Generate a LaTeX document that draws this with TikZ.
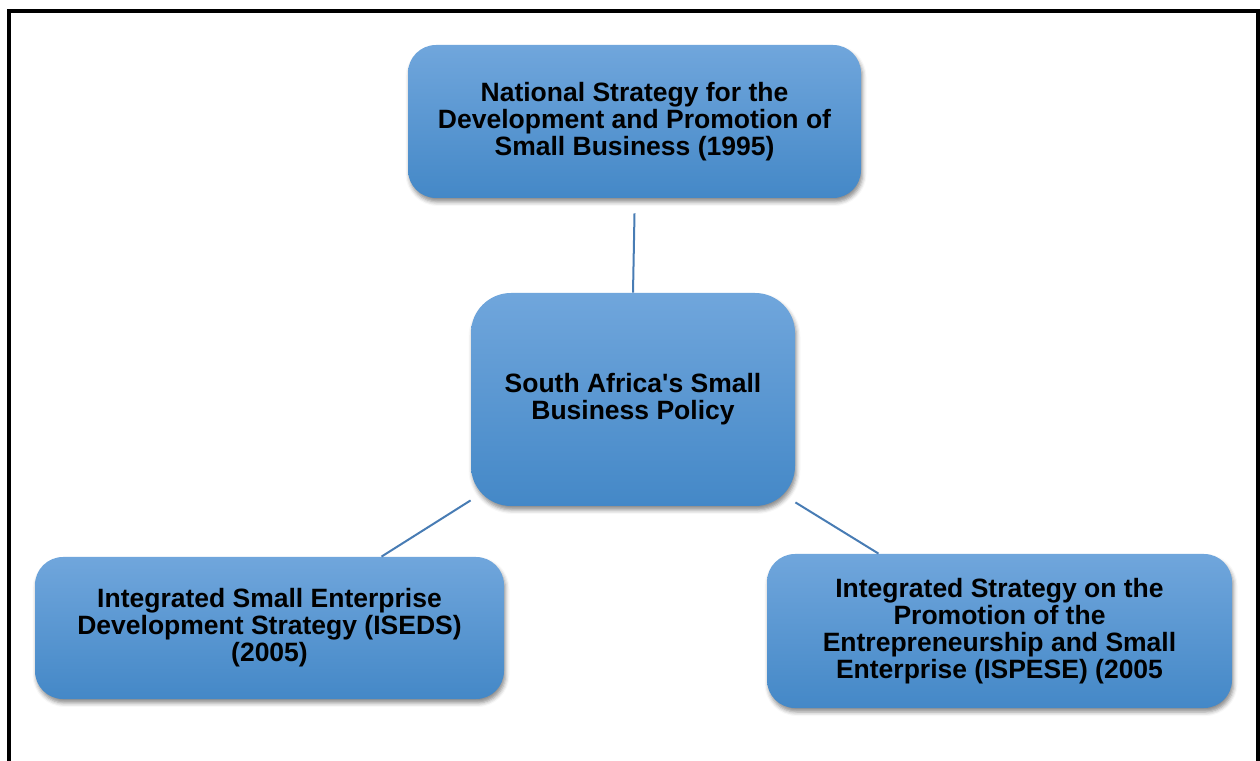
\documentclass[tikz,border=0pt]{standalone}
\usepackage{fontspec}
\setmainfont{Liberation Sans}
\usepackage{xcolor}
\usepackage{tikz}
\usetikzlibrary{shapes,shadows.blur,positioning}
\definecolor{boxTop}{RGB}{112, 166, 220}
\definecolor{boxBottom}{RGB}{68, 136, 199}
\definecolor{linkBlue}{RGB}{72, 124, 180}

\begin{document}
\begin{tikzpicture}[x=1pt, y=1pt, thick]
    \tikzstyle{block} = [rectangle, top color=boxTop, bottom color=boxBottom, draw=none, align=center, rounded corners=28pt, inner sep=0pt, font=\fontsize{26.5}{27}\selectfont\bfseries, blur shadow={shadow xshift=1.5pt, shadow yshift=-4pt, shadow blur radius=4pt, shadow opacity=45}]
    \tikzstyle{line} = [draw, line width=2pt, linkBlue]

    \useasboundingbox (0,0) rectangle (1260,760);
    % frame, open at the bottom
    \draw[line width=4pt] (9,-10) -- (9,749) -- (1258,749) -- (1258,-10);

    \node [block, minimum width=324pt, minimum height=213pt, rounded corners=40pt] (policy) at (633,360.5) {South Africa\textquotesingle s Small\\Business Policy};
    \node [block, minimum width=453pt, minimum height=153pt] (national) at (634.5,638.5) {National Strategy for the\\Development and Promotion of\\Small Business (1995)};
    \node [block, minimum width=469pt, minimum height=142pt] (iseds) at (269.5,132) {Integrated Small Enterprise\\Development Strategy (ISEDS)\\(2005)};
    \node [block, minimum width=465pt, minimum height=154pt] (ispese) at (999.5,129) {Integrated Strategy on the\\Promotion of the\\Entrepreneurship and Small\\Enterprise (ISPESE) (2005};

    \path [line] ([yshift=-15pt]national.south) -- (policy.north);
    \path [line] ([yshift=6pt]policy.south west) -- ([xshift=112pt]iseds.north);
    \path [line] ([yshift=4pt]policy.south east) -- ([xshift=-121pt]ispese.north);
\end{tikzpicture}
\end{document}
